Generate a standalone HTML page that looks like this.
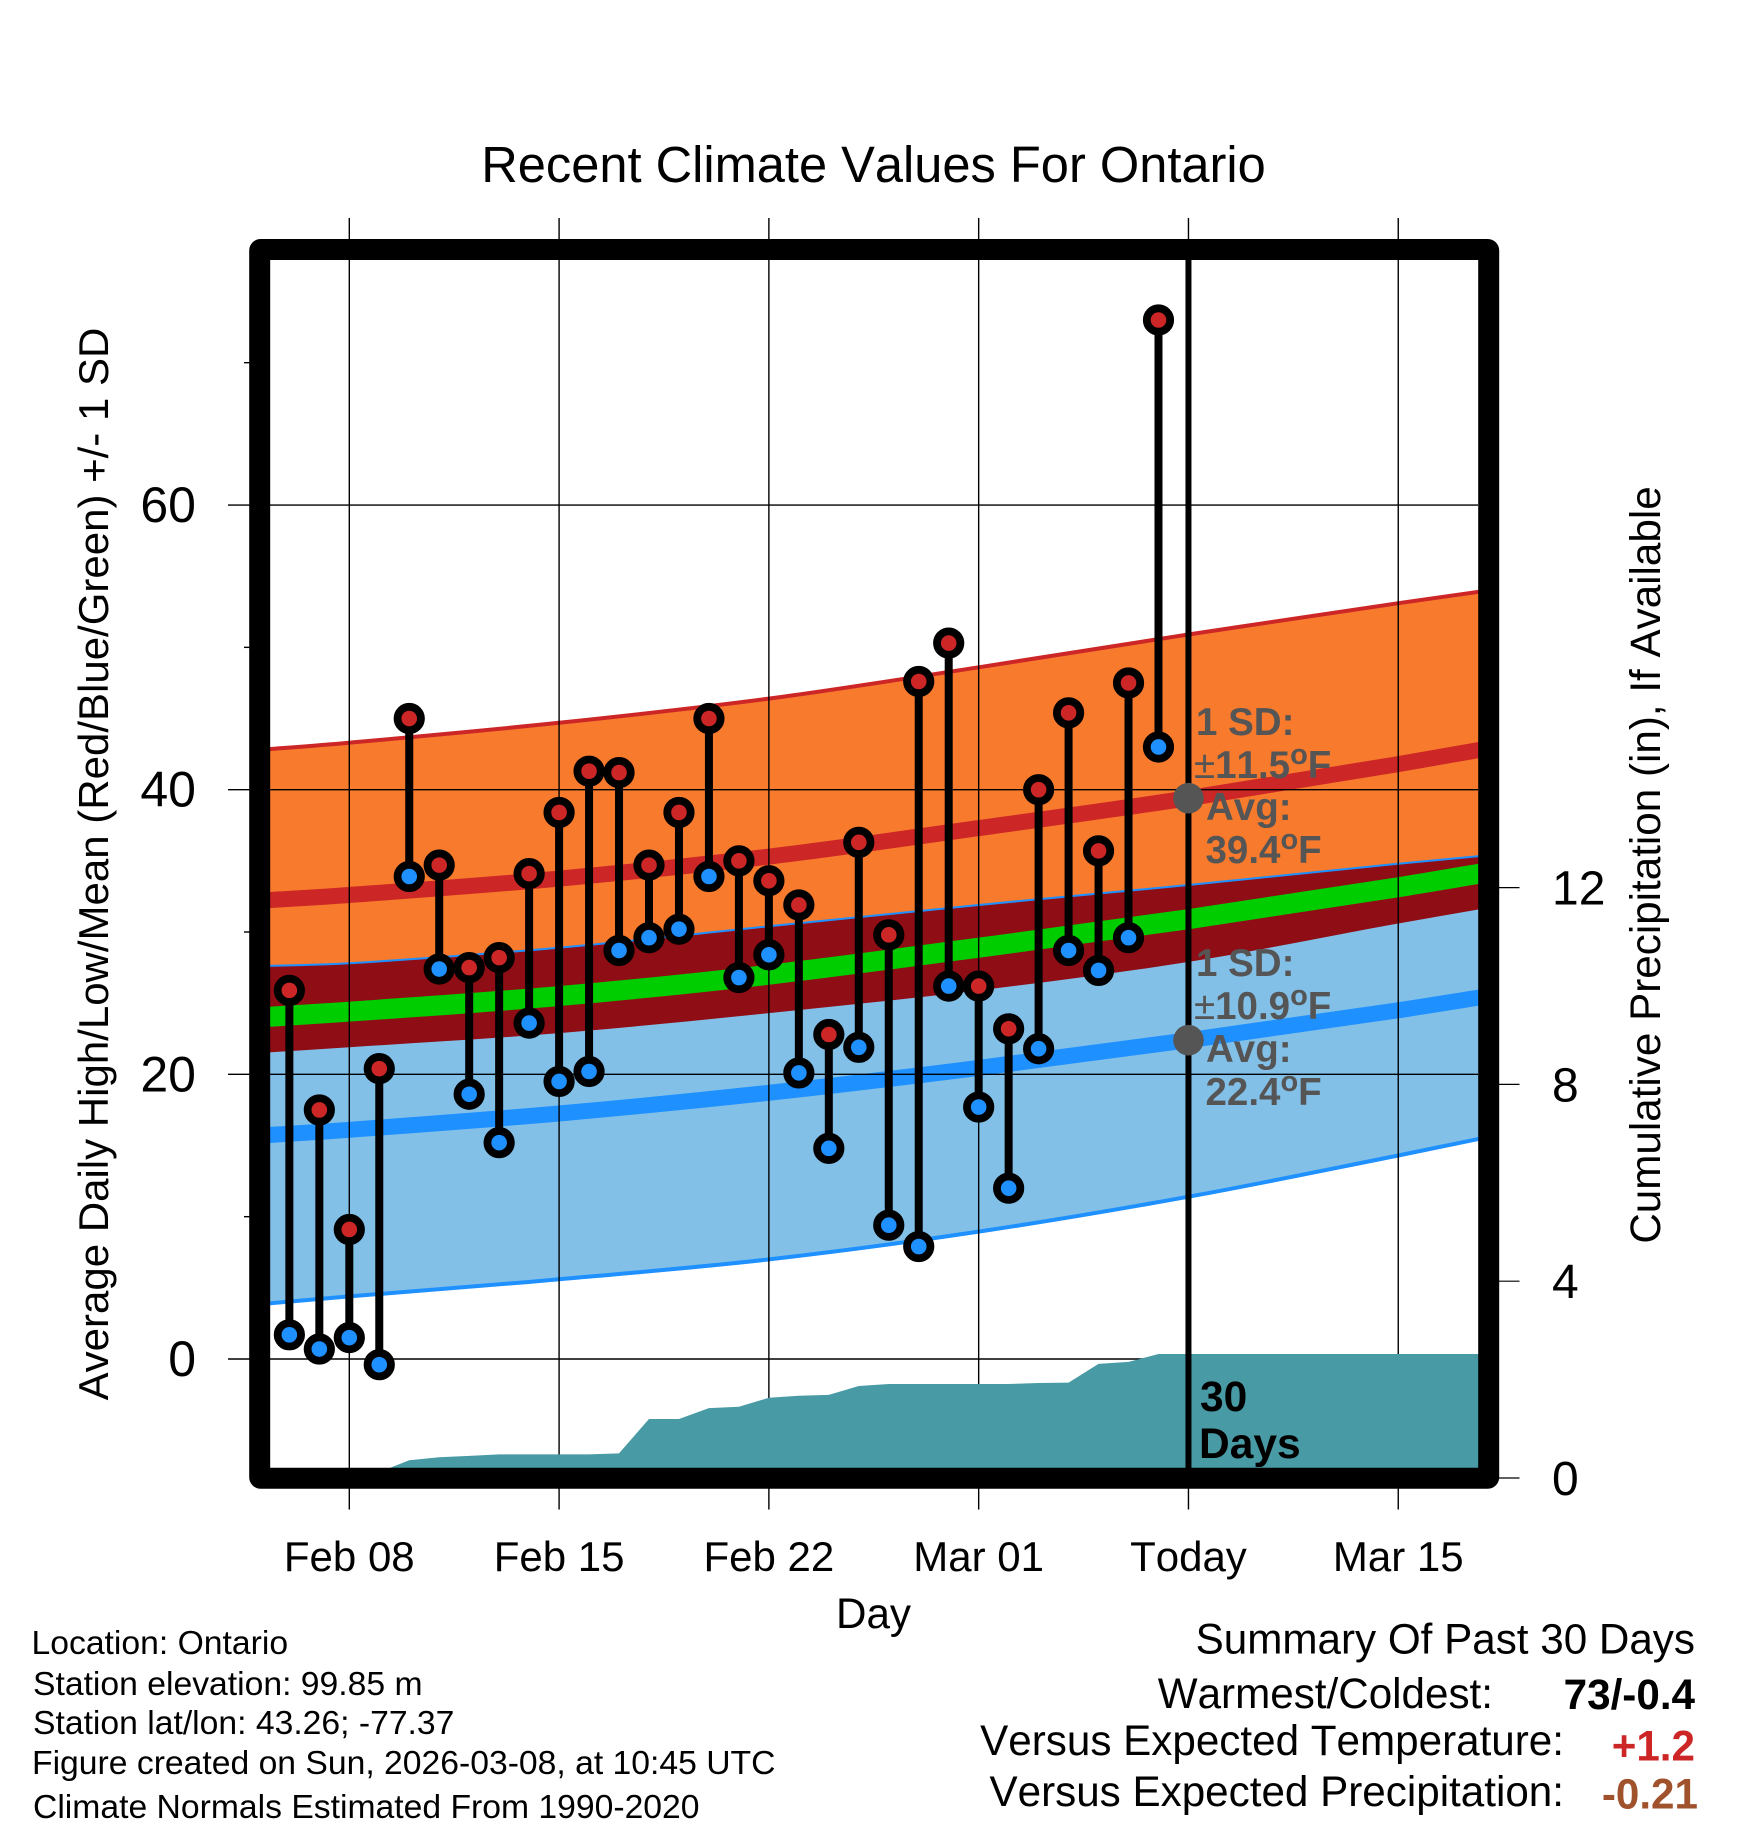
<!DOCTYPE html>
<html lang="en">
<head>
<meta charset="utf-8">
<title>Recent Climate Values For Ontario</title>
<style>
html,body{margin:0;padding:0;background:#fff;}
svg{display:block;}
text{font-family:"Liberation Sans",Arial,sans-serif;fill:#000;font-kerning:none;}
</style>
</head>
<body>
<svg id="chart" xmlns="http://www.w3.org/2000/svg" width="1748" height="1828" viewBox="0 0 1748 1828">
  <defs><clipPath id="plot-clip"><rect x="269" y="259" width="1210" height="1210"/></clipPath></defs>
  <rect x="0" y="0" width="1748" height="1828" fill="#ffffff"/>
  <g id="plot" clip-path="url(#plot-clip)"></g>
  <g id="axes"></g>
  <rect x="259.7" y="249.5" width="1229" height="1228.8" rx="1" fill="none" stroke="#000" stroke-width="21" stroke-linejoin="round"/>

  <text x="873.5" y="182" font-size="50.6" text-anchor="middle">Recent Climate Values For Ontario</text>
  <text transform="translate(108,864) rotate(-90)" font-size="42" text-anchor="middle">Average Daily High/Low/Mean (Red/Blue/Green) +/- 1 SD</text>
  <text transform="translate(1660,865) rotate(-90)" font-size="42.2" text-anchor="middle">Cumulative Precipitation (in), If Available</text>
  <text x="873.5" y="1628" font-size="42.2" text-anchor="middle">Day</text>

  <g font-weight="bold" font-size="38.5" style="fill:#555">
    <text x="1196" y="735" style="fill:#555">1 SD:</text>
    <text x="1194" y="778" style="fill:#555"><tspan font-weight="normal">±</tspan>11.5<tspan font-size="29" dy="-14">o</tspan><tspan dy="14">F</tspan></text>
    <text x="1206" y="820" style="fill:#555">Avg:</text>
    <text x="1205.5" y="863" style="fill:#555">39.4<tspan font-size="29" dy="-14">o</tspan><tspan dy="14">F</tspan></text>
    <text x="1196" y="976" style="fill:#555">1 SD:</text>
    <text x="1194" y="1019" style="fill:#555"><tspan font-weight="normal">±</tspan>10.9<tspan font-size="29" dy="-14">o</tspan><tspan dy="14">F</tspan></text>
    <text x="1206" y="1062" style="fill:#555">Avg:</text>
    <text x="1205.5" y="1105" style="fill:#555">22.4<tspan font-size="29" dy="-14">o</tspan><tspan dy="14">F</tspan></text>
  </g>
  <text x="1200" y="1411" font-size="42.5" font-weight="bold">30</text>
  <text x="1199" y="1458" font-size="42.5" font-weight="bold">Days</text>

  <g font-size="33.7">
    <text x="31.5" y="1654">Location: Ontario</text>
    <text x="33" y="1695">Station elevation: 99.85 m</text>
    <text x="33" y="1734">Station lat/lon: 43.26; -77.37</text>
    <text x="32" y="1774">Figure created on Sun, 2026-03-08, at 10:45 UTC</text>
    <text x="33" y="1818">Climate Normals Estimated From 1990-2020</text>
  </g>
  <g font-size="42.2">
    <text x="1695" y="1653.5" text-anchor="end">Summary Of Past 30 Days</text>
    <text x="1493" y="1708" text-anchor="end">Warmest/Coldest:</text>
    <text x="1695" y="1709" text-anchor="end" font-weight="bold">73/-0.4</text>
    <text x="1564" y="1755" text-anchor="end">Versus Expected Temperature:</text>
    <text x="1695" y="1760.5" text-anchor="end" font-weight="bold" style="fill:#cd2626">+1.2</text>
    <text x="1564" y="1806" text-anchor="end">Versus Expected Precipitation:</text>
    <text x="1698" y="1808.5" text-anchor="end" font-weight="bold" style="fill:#a0522d">-0.21</text>
  </g>
</svg>
<script>
// Daily observations, Feb 06 through Mar 07 (°F)
const dailyHighs = [25.9,17.5,9.1,20.4,45.0,34.7,27.5,28.2,34.1,38.4,41.3,41.2,34.7,38.4,45.0,35.0,33.6,31.9,22.8,36.3,29.8,47.6,50.3,26.2,23.2,40.0,45.4,35.7,47.5,73.0];
const dailyLows = [1.7,0.7,1.5,-0.4,33.9,27.4,18.6,15.2,23.6,19.5,20.2,28.7,29.6,30.2,33.9,26.8,28.4,20.1,14.8,21.9,9.4,7.9,26.2,17.7,12.0,21.8,28.7,27.3,29.6,43.0];
// Cumulative precipitation (in), Feb 06 through Mar 07
const cumulativePrecip = [0,0,0,0.12,0.36,0.42,0.45,0.48,0.48,0.48,0.48,0.50,1.20,1.20,1.42,1.45,1.63,1.67,1.69,1.87,1.91,1.91,1.91,1.91,1.91,1.93,1.94,2.32,2.36,2.52];
// Climate normals, sampled on these days relative to Feb 08
const normalDays = [-3,0,7,14,21,28,35,38];
const highPlusSD = [42.8,43.3,44.7,46.4,48.6,50.9,53.1,54.0];
const highMean = [32.2,32.6,33.75,35.3,37.3,39.4,41.8,42.9];
const highMinusSD = [21.5,21.9,22.9,24.3,25.9,27.9,30.6,31.7];
const meanTemp = [24.0,24.4,25.5,27.0,28.9,30.9,33.15,34.2];
const lowPlusSD = [27.6,27.8,28.9,30.4,31.9,33.3,34.8,35.4];
const lowMean = [15.7,16.1,17.25,18.7,20.45,22.4,24.5,25.5];
const lowMinusSD = [3.85,4.4,5.6,7.0,8.95,11.4,14.3,15.6];
// Axis ticks
const xTickDays = [0,7,14,21,28,35];
const xTickLabels = ["Feb 08","Feb 15","Feb 22","Mar 01","Today","Mar 15"];
const tempTicks = [0,20,40,60];
const tempMinorTicks = [10,30,50,70];
const precipTicks = [0,4,8,12];
const todayDay = 28;
const firstObsDay = -2;

const NS = "http://www.w3.org/2000/svg";
const plot = document.getElementById("plot");
const axes = document.getElementById("axes");
const xScale = d => 349.3 + d * 29.97;
const tempScale = v => 1359 - v * 14.233;
const precipScale = v => 1478 - v * 49.2;
const plotRight = 1478, plotLeft = 270, plotTop = 260, plotBottom = 1468;

function make(tag, parent, attrs) {
  const el = document.createElementNS(NS, tag);
  for (const k in attrs) el.setAttribute(k, attrs[k]);
  parent.appendChild(el);
  return el;
}
const pts = (days, vals, scale) => days.map((d, i) => xScale(d).toFixed(1) + "," + scale(vals[i]).toFixed(1));
const xyList = (days, vals) => days.map((d, i) => [xScale(d), tempScale(vals[i])]);

// Smooth (Catmull-Rom style) path segments through the given screen points
function smoothSegments(p) {
  let s = "";
  for (let i = 0; i < p.length - 1; i++) {
    const a = p[Math.max(i - 1, 0)], b = p[i], c = p[i + 1], d = p[Math.min(i + 2, p.length - 1)];
    const h = c[0] - b[0];
    const t1 = (c[1] - a[1]) / (c[0] - a[0]) * h / 3;
    const t2 = (d[1] - b[1]) / (d[0] - b[0]) * h / 3;
    s += "C" + (b[0] + h / 3).toFixed(1) + " " + (b[1] + t1).toFixed(1) + " " + (c[0] - h / 3).toFixed(1) + " " + (c[1] - t2).toFixed(1) + " " + c[0].toFixed(1) + " " + c[1].toFixed(1);
  }
  return s;
}
function band(upper, lower, fill, name) {
  const up = xyList(normalDays, upper), low = xyList(normalDays, lower).reverse();
  const d = "M" + up[0].join(" ") + smoothSegments(up) + "L" + low[0].join(" ") + smoothSegments(low) + "Z";
  const el = make("path", plot, {d: d, fill: fill});
  
  
}
function curve(vals, color, width, name) {
  const p = xyList(normalDays, vals);
  const el = make("path", plot, {d: "M" + p[0].join(" ") + smoothSegments(p), fill: "none", stroke: color, "stroke-width": width});
  
  
}

band(highPlusSD, highMinusSD, "#f77a2d", "high-sd-band");
band(lowPlusSD, lowMinusSD, "#82c0e8", "low-sd-band");
band(lowPlusSD, highMinusSD, "#8f0d14", "band-overlap");
curve(meanTemp, "#00cd00", 20, "mean-temperature-line");
curve(highMean, "#cd2626", 16, "average-high-line");
curve(lowMean, "#1e90ff", 16, "average-low-line");
curve(highPlusSD, "#cd2626", 4, "high-plus-sd-line");
curve(lowPlusSD, "#1e90ff", 2, "low-plus-sd-line");
curve(lowMinusSD, "#1e90ff", 4, "low-minus-sd-line");

// Gridlines and outer ticks
xTickDays.forEach((d, i) => {
  const line = make("line", plot, {x1: xScale(d), x2: xScale(d), y1: plotTop, y2: plotBottom, stroke: "#000", "stroke-width": 1.4});
  
  
  const topTick = make("line", axes, {x1: xScale(d), x2: xScale(d), y1: 218, y2: 240, stroke: "#000", "stroke-width": 1.4});
  
  
  const bottomTick = make("line", axes, {x1: xScale(d), x2: xScale(d), y1: 1488, y2: 1509.5, stroke: "#000", "stroke-width": 1.4});
  
  
  const label = make("text", axes, {x: xScale(d), y: 1571, "font-size": 42, "text-anchor": "middle"});
  label.textContent = xTickLabels[i];
  
  
});
tempTicks.forEach(v => {
  const line = make("line", plot, {x1: plotLeft, x2: plotRight, y1: tempScale(v), y2: tempScale(v), stroke: "#000", "stroke-width": 1.4});
  
  
  const tick = make("line", axes, {x1: 228, x2: 250, y1: tempScale(v), y2: tempScale(v), stroke: "#000", "stroke-width": 1.4});
  
  
  const label = make("text", axes, {x: 196, y: tempScale(v) + 17, "font-size": 50, "text-anchor": "end"});
  label.textContent = v;
  
  
});
tempMinorTicks.forEach(v => {
  const tick = make("line", axes, {x1: 244, x2: 250, y1: tempScale(v), y2: tempScale(v), stroke: "#000", "stroke-width": 1.4});
  
  
});
precipTicks.forEach(v => {
  const tick = make("line", axes, {x1: 1498, x2: 1519.5, y1: precipScale(v), y2: precipScale(v), stroke: "#000", "stroke-width": 1.2});
  
  
  const label = make("text", axes, {x: 1552, y: precipScale(v) + 17, "font-size": 48});
  label.textContent = v;
  
  
});

// Cumulative precipitation area
const precipDays = cumulativePrecip.map((_, i) => firstObsDay + i);
const precipPts = pts(precipDays, cumulativePrecip, precipScale);
const lastY = precipScale(cumulativePrecip[cumulativePrecip.length - 1]).toFixed(1);
const precipArea = make("polygon", plot, {
  points: [xScale(firstObsDay) + "," + precipScale(0)].concat(precipPts, [plotRight + 1 + "," + lastY, plotRight + 1 + "," + precipScale(0)]).join(" "),
  fill: "#489aa5"
});



// Today marker
const todayLine = make("line", plot, {x1: xScale(todayDay), x2: xScale(todayDay), y1: plotTop, y2: plotBottom, stroke: "#000", "stroke-width": 6});


const todayIdx = normalDays.indexOf(todayDay);
[highMean[todayIdx], lowMean[todayIdx]].forEach(v => {
  const dot = make("circle", plot, {cx: xScale(todayDay), cy: tempScale(v), r: 15.3, fill: "#555555"});
  
  
});

// Daily high/low stems and markers
dailyHighs.forEach((hi, i) => {
  const x = xScale(firstObsDay + i);
  const stem = make("line", plot, {x1: x, x2: x, y1: tempScale(hi), y2: tempScale(dailyLows[i]), stroke: "#000", "stroke-width": 8});
  
  
  const lowDot = make("circle", plot, {cx: x, cy: tempScale(dailyLows[i]), r: 11.7, fill: "#1e90ff", stroke: "#000", "stroke-width": 7.8});
  
  
  const highDot = make("circle", plot, {cx: x, cy: tempScale(hi), r: 11.7, fill: "#cd2626", stroke: "#000", "stroke-width": 7.8});
  
  
});
</script>
</body>
</html>
